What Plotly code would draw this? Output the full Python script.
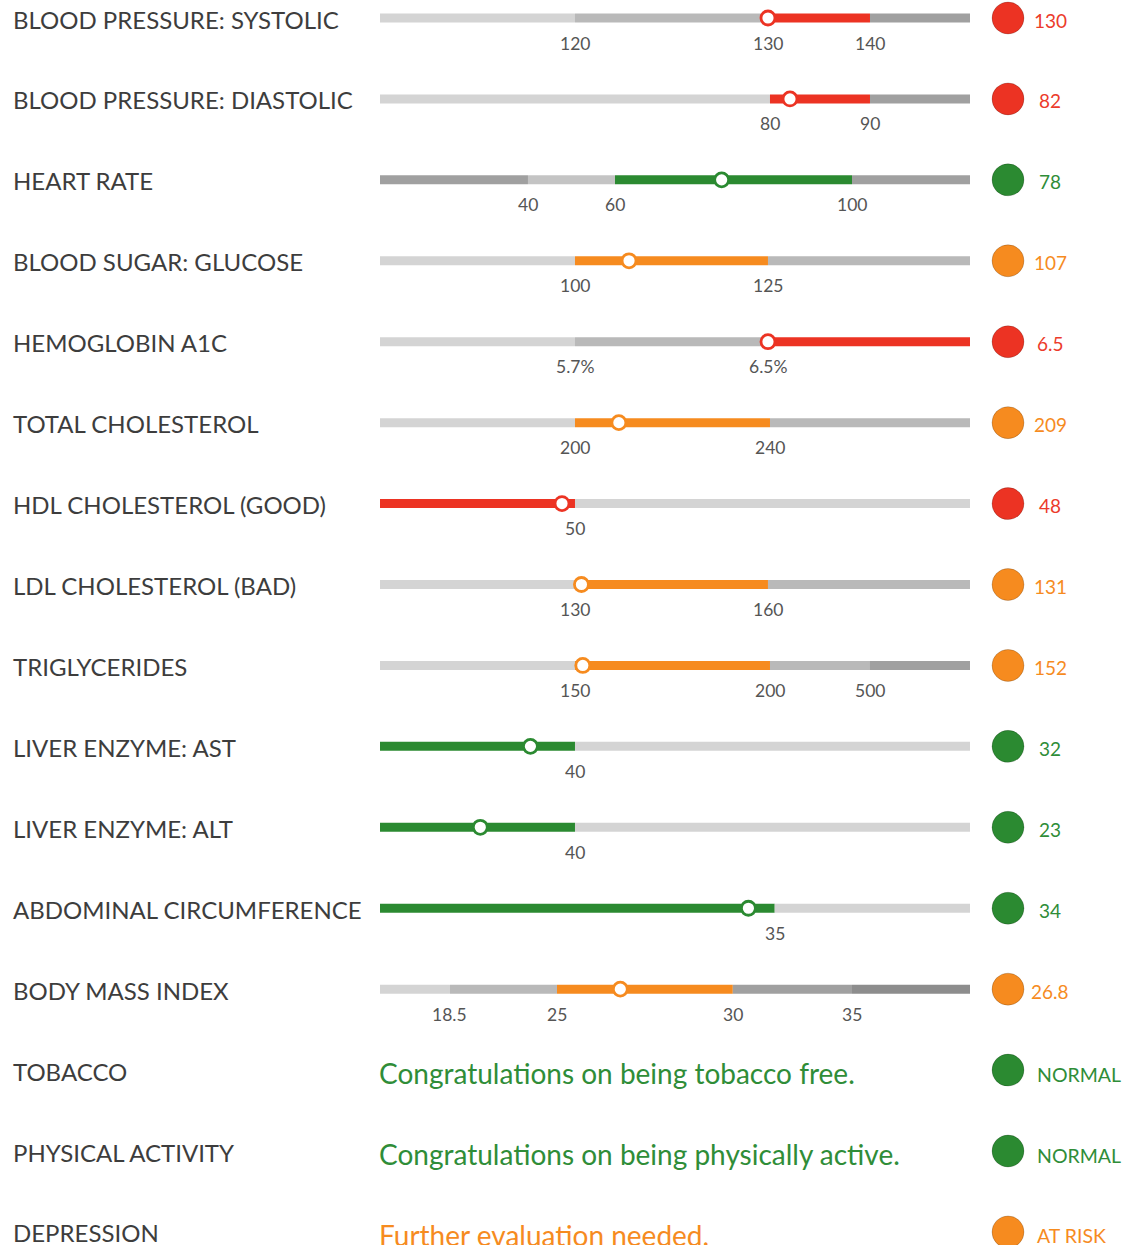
import numpy as np
import plotly.graph_objects as go

# ---------------- data ----------------
labels = ["BLOOD PRESSURE: SYSTOLIC", "BLOOD PRESSURE: DIASTOLIC", "HEART RATE",
          "BLOOD SUGAR: GLUCOSE", "HEMOGLOBIN A1C", "TOTAL CHOLESTEROL",
          "HDL CHOLESTEROL (GOOD)", "LDL CHOLESTEROL (BAD)", "TRIGLYCERIDES",
          "LIVER ENZYME: AST", "LIVER ENZYME: ALT", "ABDOMINAL CIRCUMFERENCE",
          "BODY MASS INDEX", "TOBACCO", "PHYSICAL ACTIVITY", "DEPRESSION"]
values = [130, 82, 78, 107, 6.5, 209, 48, 131, 152, 32, 23, 34, 26.8]
value_text = ["130", "82", "78", "107", "6.5", "209", "48", "131", "152", "32", "23", "34", "26.8",
              "NORMAL", "NORMAL", "AT RISK"]
status = ["high", "high", "normal", "risk", "high", "risk", "high", "risk", "risk",
          "normal", "normal", "normal", "risk", "normal", "normal", "risk"]
tick_values = [[120, 130, 140], [80, 90], [40, 60, 100], [100, 125], [5.7, 6.5], [200, 240],
               [50], [130, 160], [150, 200, 500], [40], [40], [35], [18.5, 25, 30, 35]]
tick_labels = [["120", "130", "140"], ["80", "90"], ["40", "60", "100"], ["100", "125"],
               ["5.7%", "6.5%"], ["200", "240"], ["50"], ["130", "160"], ["150", "200", "500"],
               ["40"], ["40"], ["35"], ["18.5", "25", "30", "35"]]
scale_ends = [(100, 150), (60, 100), (20, 120), (70, 150), (5.0, 7.0), (160, 280), (20, 100),
              (100, 190), (100, 800), (5, 100), (5, 100), (20, 45), (15, 40)]
# segment shade per range: g0..g4 = greys, S = status colour
segment_shades = [["g1", "g2", "S", "g3"], ["g1", "S", "g3"], ["g3", "g0", "S", "g3"],
                  ["g1", "S", "g2"], ["g1", "g2", "S"], ["g1", "S", "g2"], ["S", "g1"],
                  ["g1", "S", "g2"], ["g1", "S", "g2", "g3"], ["S", "g1"], ["S", "g1"],
                  ["S", "g1"], ["g1", "g2", "S", "g3", "g4"]]
messages = ["Congratulations on being tobacco free.",
            "Congratulations on being physically active.",
            "Further evaluation needed."]

# ---------------- layout / style ----------------
W, H = 1127, 1245
TRACK_L, TRACK_R = 380, 970           # px of the track
ROW0, ROW_STEP = 18, 80.93            # px of first row centre, row spacing
# fractional tick positions along the track (layout of each row's segmented scale)
tick_fracs = [[0.3305, 0.6576, 0.8305], [0.661, 0.8305], [0.2508, 0.3983, 0.80],
              [0.3305, 0.6576], [0.3305, 0.6576], [0.3305, 0.661], [0.3305],
              [0.3305, 0.6576], [0.3305, 0.661, 0.8305], [0.3305], [0.3305], [0.669],
              [0.1186, 0.30, 0.598, 0.80]]
STATUS_COL = {"high": "#ec3323", "risk": "#f68b1f", "normal": "#2b8a31"}
TEXT_COL = {"high": "#ec3b2b", "risk": "#f68b1f", "normal": "#2f8d38"}
GREYS = {"g0": "#c4c4c4", "g1": "#d4d4d4", "g2": "#b9b9b9", "g3": "#a0a0a0", "g4": "#8d8d8d"}
FONT = "Lato"

def px_to_x(px):
    return (px - TRACK_L) / (TRACK_R - TRACK_L)

def to_track(v, i):
    lo, hi = scale_ends[i]
    return float(np.interp(v, [lo] + tick_values[i] + [hi], [0.0] + tick_fracs[i] + [1.0]))

fig = go.Figure()

# segmented tracks
seg_y, seg_base, seg_len, seg_col = [], [], [], []
for i in range(len(values)):
    edges = [0.0] + [to_track(t, i) for t in tick_values[i]] + [1.0]
    for k, shade in enumerate(segment_shades[i]):
        seg_y.append(i)
        seg_base.append(edges[k])
        seg_len.append(edges[k + 1] - edges[k])
        seg_col.append(STATUS_COL[status[i]] if shade == "S" else GREYS[shade])
fig.add_trace(go.Bar(orientation="h", y=seg_y, x=seg_len, base=seg_base,
                     width=9 / ROW_STEP, marker=dict(color=seg_col, line=dict(width=0)),
                     hoverinfo="skip", showlegend=False))

# value markers on the tracks
fig.add_trace(go.Scatter(
    x=[to_track(v, i) for i, v in enumerate(values)], y=list(range(len(values))),
    mode="markers", hoverinfo="skip", showlegend=False,
    marker=dict(size=14, color="white",
                line=dict(width=2.8, color=[STATUS_COL[status[i]] for i in range(len(values))]))))

# status dots
fig.add_trace(go.Scatter(
    x=[px_to_x(1008)] * len(labels), y=list(range(len(labels))), mode="markers",
    hoverinfo="skip", showlegend=False, cliponaxis=False,
    marker=dict(size=32, color=[STATUS_COL[s] for s in status],
                line=dict(width=1, color="rgba(0,0,0,0.18)"))))

ann = []
for i, lab in enumerate(labels):
    ann.append(dict(x=px_to_x(11), y=i, yshift=-1, text=lab, showarrow=False, xanchor="left",
                    font=dict(family=FONT, size=24, color="#3d3d3d")))
    if i < len(values):
        ann.append(dict(x=px_to_x(1050), y=i, yshift=-2, text=value_text[i], showarrow=False,
                        xanchor="center", font=dict(family=FONT, size=19, color=TEXT_COL[status[i]])))
        for t, tl in zip(tick_values[i], tick_labels[i]):
            ann.append(dict(x=to_track(t, i), y=i, yshift=-25, text=tl, showarrow=False,
                            xanchor="center", font=dict(family=FONT, size=17.5, color="#555555")))
    else:
        j = i - len(values)
        ann.append(dict(x=px_to_x(377), y=i, yshift=-3, text=messages[j], showarrow=False,
                        xanchor="left", font=dict(family=FONT, size=28, color=TEXT_COL[status[i]])))
        ann.append(dict(x=px_to_x(1035), y=i, yshift=-4, text=value_text[i], showarrow=False,
                        xanchor="left", font=dict(family=FONT, size=19.5, color=TEXT_COL[status[i]])))

r_top = -ROW0 / ROW_STEP
r_bot = r_top + H / ROW_STEP
fig.update_layout(
    width=W, height=H, margin=dict(l=0, r=0, t=0, b=0),
    paper_bgcolor="white", plot_bgcolor="white", barmode="overlay",
    xaxis=dict(range=[px_to_x(0), px_to_x(W)], visible=False, fixedrange=True),
    yaxis=dict(range=[r_bot, r_top], visible=False, fixedrange=True),
    annotations=ann, showlegend=False)

fig.write_html("out.html", config={"displayModeBar": False},
               post_script="document.body.style.margin='0';")
